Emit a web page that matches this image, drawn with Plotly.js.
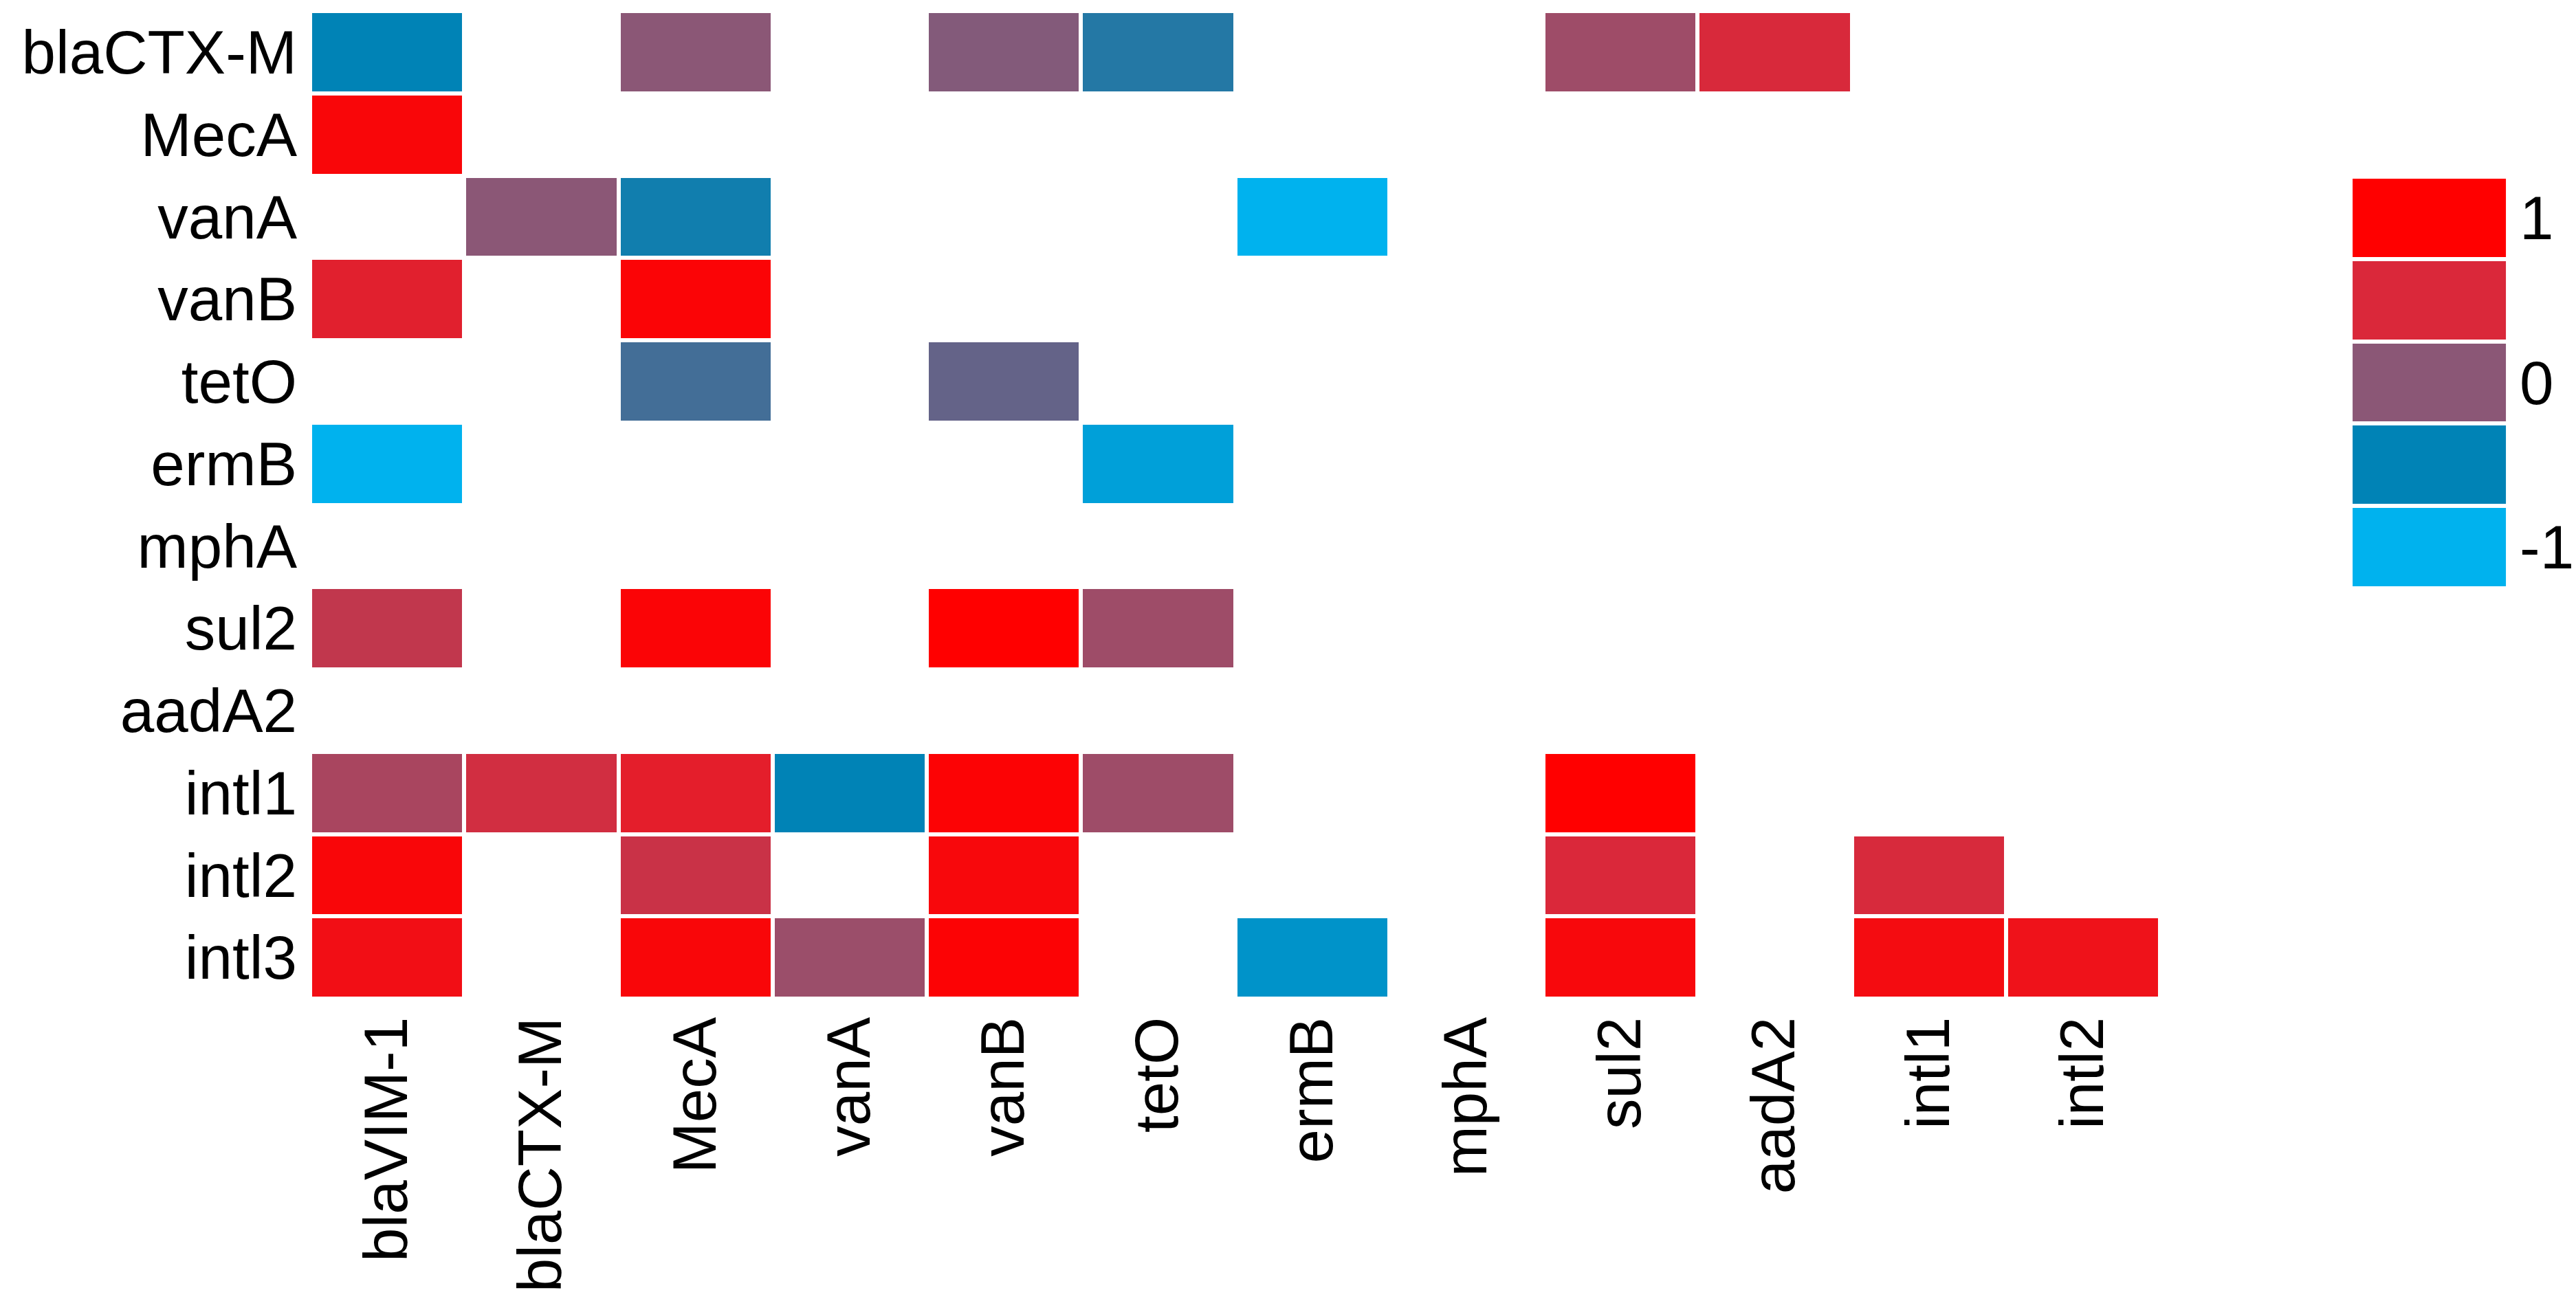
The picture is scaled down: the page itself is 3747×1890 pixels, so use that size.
<!DOCTYPE html>
<html>
<head>
<meta charset="utf-8">
<script src="https://cdn.plot.ly/plotly-3.0.1.min.js"></script>
<style>html,body{margin:0;padding:0;background:#fff;}#chart{width:3747px;height:1890px;}</style>
</head>
<body>
<div id="chart"></div>
<script>
// Column (x) labels and row (y) labels
var colLabels = ["blaVIM-1","blaCTX-M","MecA","vanA","vanB","tetO","ermB","mphA","sul2","aadA2","intl1","intl2"];
var rowLabels = ["blaCTX-M","MecA","vanA","vanB","tetO","ermB","mphA","sul2","aadA2","intl1","intl2","intl3"];

// Correlation values per row (null = blank cell)
var r_blaCTXM = [-0.5, null, 0.0, null, -0.03, -0.37, null, null, 0.12, 0.49, null, null];
var r_MecA    = [0.92, null, null, null, null, null, null, null, null, null, null, null];
var r_vanA    = [null, 0.0, -0.44, null, null, null, -1.0, null, null, null, null, null];
var r_vanB    = [0.6, null, 0.95, null, null, null, null, null, null, null, null, null];
var r_tetO    = [null, null, -0.26, null, -0.14, null, null, null, null, null, null, null];
var r_ermB    = [-1.0, null, null, null, null, -0.81, null, null, null, null, null, null];
var r_mphA    = [null, null, null, null, null, null, null, null, null, null, null, null];
var r_sul2    = [0.34, null, 0.95, null, 1.0, 0.12, null, null, null, null, null, null];
var r_aadA2   = [null, null, null, null, null, null, null, null, null, null, null, null];
var r_intl1   = [0.19, 0.44, 0.63, -0.5, 0.96, 0.12, null, null, 1.0, null, null, null];
var r_intl2   = [0.92, null, 0.39, null, 0.9, null, null, null, 0.5, null, 0.48, null];
var r_intl3   = [0.82, null, 0.92, 0.1, 0.96, null, -0.67, null, 0.9, null, 0.85, 0.78];

// Legend swatch values and labels
var legendVals = [-1, -0.5, 0, 0.5, 1];
var legendTickVals = [-1, 0, 1];
var legendTickText = ["-1", "0", "1"];

var zMatrix = [r_blaCTXM, r_MecA, r_vanA, r_vanB, r_tetO, r_ermB, r_mphA, r_sul2, r_aadA2, r_intl1, r_intl2, r_intl3];

var cscale = [[0, "#00B2EE"], [0.25, "#0083B6"], [0.5, "#8B5776"], [0.75, "#DA283A"], [1, "#FF0000"]];
var FONT = "Liberation Sans, Arial, sans-serif";
var FS = 89;

var main = {
  type: "heatmap",
  x: colLabels,
  y: rowLabels,
  z: zMatrix,
  colorscale: cscale,
  zmin: -1, zmax: 1,
  showscale: false,
  xgap: 6, ygap: 6,
  hoverongaps: false,
  xaxis: "x", yaxis: "y"
};

var legend = {
  type: "heatmap",
  x: ["k"],
  y: legendVals,
  z: legendVals.map(function(v){ return [v]; }),
  colorscale: cscale,
  zmin: -1, zmax: 1,
  showscale: false,
  xgap: 6, ygap: 6,
  xaxis: "x2", yaxis: "y2"
};

var layout = {
  width: 3747, height: 1890,
  margin: {l: 451, r: 80, t: 16, b: 437, pad: 0},
  paper_bgcolor: "#ffffff",
  plot_bgcolor: "#ffffff",
  font: {family: FONT, size: FS, color: "#000000"},
  showlegend: false,
  xaxis: {
    domain: [0, 0.8368],
    type: "category",
    tickangle: -90,
    showgrid: false, zeroline: false, showline: false,
    ticks: "", ticklabelstandoff: 8,
    tickfont: {family: FONT, size: FS, color: "#000"},
    fixedrange: true
  },
  yaxis: {
    domain: [0, 1],
    type: "category",
    autorange: "reversed",
    showgrid: false, zeroline: false, showline: false,
    ticks: "", ticklabelstandoff: 18,
    tickfont: {family: FONT, size: FS, color: "#000"},
    fixedrange: true
  },
  xaxis2: {
    domain: [0.9229, 0.9941],
    anchor: "y2",
    showticklabels: false, showgrid: false, zeroline: false, showline: false, ticks: "",
    fixedrange: true
  },
  yaxis2: {
    domain: [0.4155, 0.8323],
    anchor: "x2",
    side: "right",
    range: [-1.25, 1.25],
    tickvals: legendTickVals,
    ticktext: legendTickText,
    showgrid: false, zeroline: false, showline: false, ticks: "",
    ticklabelstandoff: 16,
    tickfont: {family: FONT, size: FS, color: "#000"},
    fixedrange: true
  }
};

Plotly.newPlot("chart", [main, legend], layout, {displayModeBar: false, staticPlot: true});
</script>
</body>
</html>
